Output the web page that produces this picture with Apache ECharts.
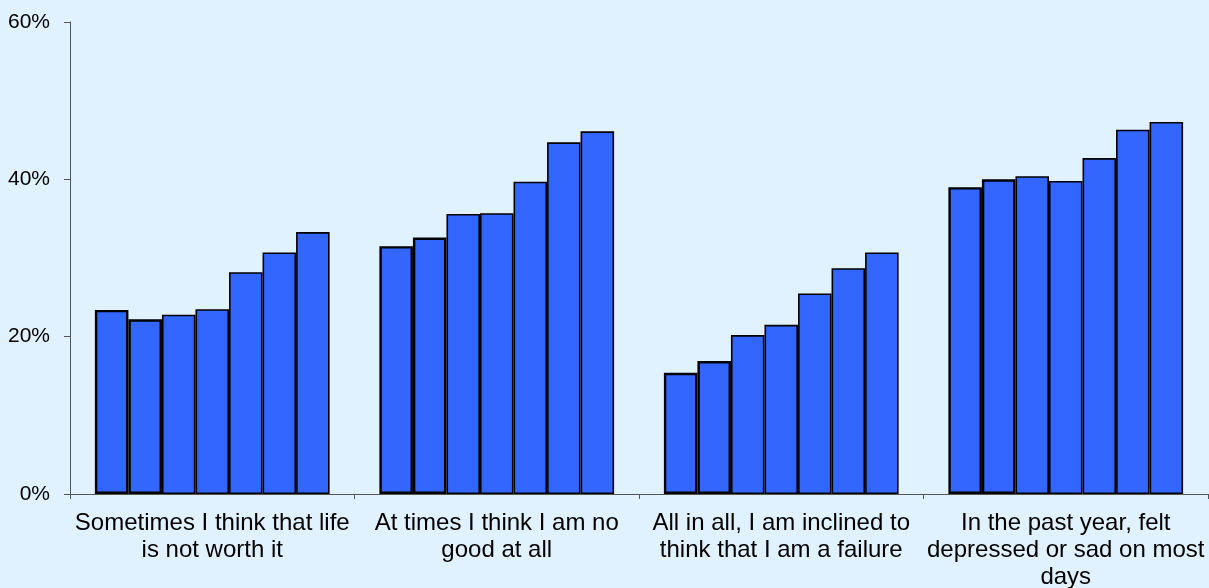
<!DOCTYPE html>
<html>
<head>
<meta charset="utf-8">
<script src="https://cdn.jsdelivr.net/npm/echarts@6/dist/echarts.min.js"></script>
<style>
  html, body { margin: 0; padding: 0; background: #e0f1ff; }
  #chart { width: 1209px; height: 588px; }
</style>
</head>
<body>
<div id="chart"></div>
<script>
// kategoriler (Excel'deki gibi satır kırılmalarıyla)
const categories = [
    'Sometimes I think that life\nis not worth it',
    'At times I think I am no\ngood at all',
    'All in all, I am inclined to\nthink that I am a failure',
    'In the past year, felt\ndepressed or sad on most\ndays'
];

// 7 seri, her biri kategori başına bir değer (%)
const s1 = [23.4, 31.5, 15.4, 39.0];
const s2 = [22.2, 32.6, 16.9, 40.0];
const s3 = [22.8, 35.6, 20.2, 40.4];
const s4 = [23.5, 35.7, 21.5, 39.8];
const s5 = [28.2, 39.7, 25.5, 42.7];
const s6 = [30.7, 44.7, 28.7, 46.3];
const s7 = [33.3, 46.1, 30.7, 47.3];
const allSeries = [s1, s2, s3, s4, s5, s6, s7];

const yTicks = [0, 20, 40, 60];

const chart = echarts.init(document.getElementById('chart'));
const font = 'Liberation Sans, Arial, sans-serif';

const option = {
    backgroundColor: '#e0f1ff',
    animation: false,
    grid: { left: 70, right: 1, top: 22, bottom: 94, outerBoundsMode: 'none', containLabel: false },
    xAxis: {
        type: 'category',
        data: categories,
        axisLine: { lineStyle: { color: '#555', width: 1 } },
        axisTick: { show: true, length: 5, lineStyle: { color: '#555' } },
        axisLabel: {
            color: '#000', fontFamily: font, fontSize: 24, lineHeight: 27,
            margin: 16, interval: 0, align: 'center'
        }
    },
    yAxis: {
        type: 'value',
        min: yTicks[0],
        max: yTicks[yTicks.length - 1],
        interval: 20,
        axisLine: { show: true, lineStyle: { color: '#555', width: 1 } },
        axisTick: { show: true, length: 6, lineStyle: { color: '#555' } },
        splitLine: { show: false },
        axisLabel: {
            color: '#000', fontFamily: font, fontSize: 21, margin: 20,
            formatter: '{value}%'
        }
    },
    series: allSeries.map((vals, i) => ({
        type: 'bar',
        data: vals,
        barGap: '0%',
        barCategoryGap: '17.5%',
        itemStyle: {
            color: '#3366ff',
            borderColor: '#000',
            borderWidth: i < 2 ? 2.4 : 1.6
        }
    }))
};

chart.setOption(option);
</script>
</body>
</html>
